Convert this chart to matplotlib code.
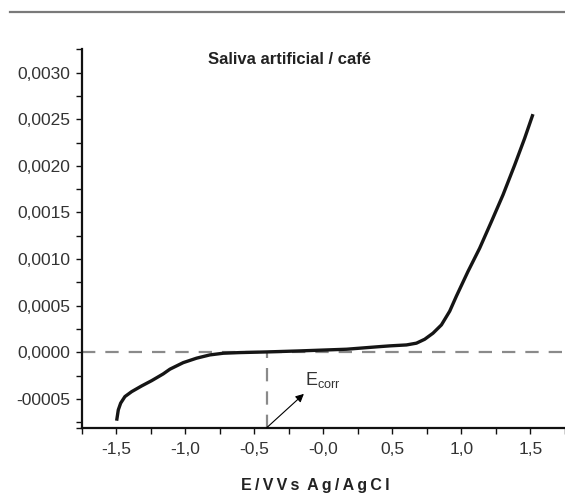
import numpy as np
import matplotlib
matplotlib.use("Agg")
import matplotlib.pyplot as plt
from matplotlib.lines import Line2D

plt.rcParams['font.family'] = ['Liberation Sans', 'DejaVu Sans']
plt.rcParams['mathtext.fontset'] = 'custom'
plt.rcParams['mathtext.rm'] = 'Liberation Sans'

# curve (E in V, current)
potential = [-1.497, -1.485, -1.468, -1.437, -1.388, -1.316, -1.243, -1.160,
             -1.111, -1.015, -0.918, -0.822, -0.725, -0.605, -0.411, -0.170,
             0.168, 0.408, 0.481, 0.602, 0.674, 0.734, 0.794, 0.855, 0.915,
             0.963, 1.047, 1.132, 1.217, 1.301, 1.386, 1.458, 1.518]
current = [-0.000735, -0.000619, -0.000547, -0.000476, -0.000423, -0.000362,
           -0.000305, -0.000233, -0.000182, -0.000112, -0.000064, -0.000029,
           -0.000011, -0.000004, 0.000003, 0.000014, 0.000032, 0.000060,
           0.000068, 0.000078, 0.000097, 0.000139, 0.000204, 0.000293,
           0.000440, 0.000600, 0.000865, 0.001116, 0.001401, 0.001688,
           0.002010, 0.002296, 0.002554]

e_corr = -0.41
xticks = [-1.5, -1.0, -0.5, 0.0, 0.5, 1.0, 1.5]
xticklabels = ['-1,5', '-1,0', '-0,5', '-0,0', '0,5', '1,0', '1,5']
yticks = [0.0030, 0.0025, 0.0020, 0.0015, 0.0010, 0.0005, 0.0, -0.0005]
yticklabels = ['0,0030', '0,0025', '0,0020', '0,0015', '0,0010', '0,0005',
               '0,0000', '-00005']

xlim = (-1.75, 1.75)
ylim = (-0.00081, 0.00325)

fig = plt.figure(figsize=(5.65, 4.94), dpi=100)
ax = fig.add_axes([0.1446, 0.1342, 0.8554, 0.766])

ax.plot(potential, current, color='#151515', lw=2.4, solid_capstyle='butt',
        solid_joinstyle='round', zorder=3)

# reference lines
ax.axhline(0, color='#8a8a8a', lw=1.6, dashes=(6, 4.5), zorder=2)
ax.plot([e_corr, e_corr], [ylim[0], 0], color='#8a8a8a', lw=1.6,
        dashes=(6, 4.5), zorder=2)

ax.annotate('', xy=(-0.141, -0.000447), xytext=(e_corr, ylim[0]),
            arrowprops=dict(arrowstyle='-|>', color='black', lw=0.8,
                            mutation_scale=12, shrinkA=0, shrinkB=0))
ax.text(-0.134, -0.000351, r'E$_{\mathrm{corr}}$', fontsize=13,
        color='#333333', ha='left', va='baseline')

ax.text(-0.243, 0.003136, 'Saliva artificial / café', fontsize=12,
        fontweight='bold', color='#222222', ha='center', va='center')

ax.set_xlim(*xlim)
ax.set_ylim(*ylim)
ax.set_xticks(xticks)
ax.set_xticklabels(xticklabels)
ax.set_xticks(np.arange(-1.75, 1.76, 0.25), minor=True)
ax.set_yticks(yticks)
ax.set_yticklabels(yticklabels)
ax.set_yticks(list(np.arange(-0.00075, 0.00326, 0.00025)) + [ylim[0]], minor=True)

for s in ['top', 'right']:
    ax.spines[s].set_visible(False)
for s in ['left', 'bottom']:
    ax.spines[s].set_linewidth(1.6)
    ax.spines[s].set_color('#111111')

ax.tick_params(which='both', direction='out', length=4.5, width=1.0,
               color='#111111', labelsize=12.5, labelcolor='#333333')
ax.tick_params(axis='x', which='both', pad=5.5)
ax.tick_params(axis='y', which='both', pad=3.5)

sp = '\u2009'
xlabel = (' ' + sp).join(sp.join(w) for w in 'E/VVs Ag/AgCl'.split())
fig.text(0.558, 0.008, xlabel, fontsize=11.5,
         fontweight='bold', color='#222222', ha='center', va='baseline')

fig.add_artist(Line2D([10 / 565, 1.0], [1 - 12 / 494, 1 - 12 / 494],
                      color='#7a7a7a', lw=1.6, transform=fig.transFigure))

fig.savefig('out.png', dpi=100)
